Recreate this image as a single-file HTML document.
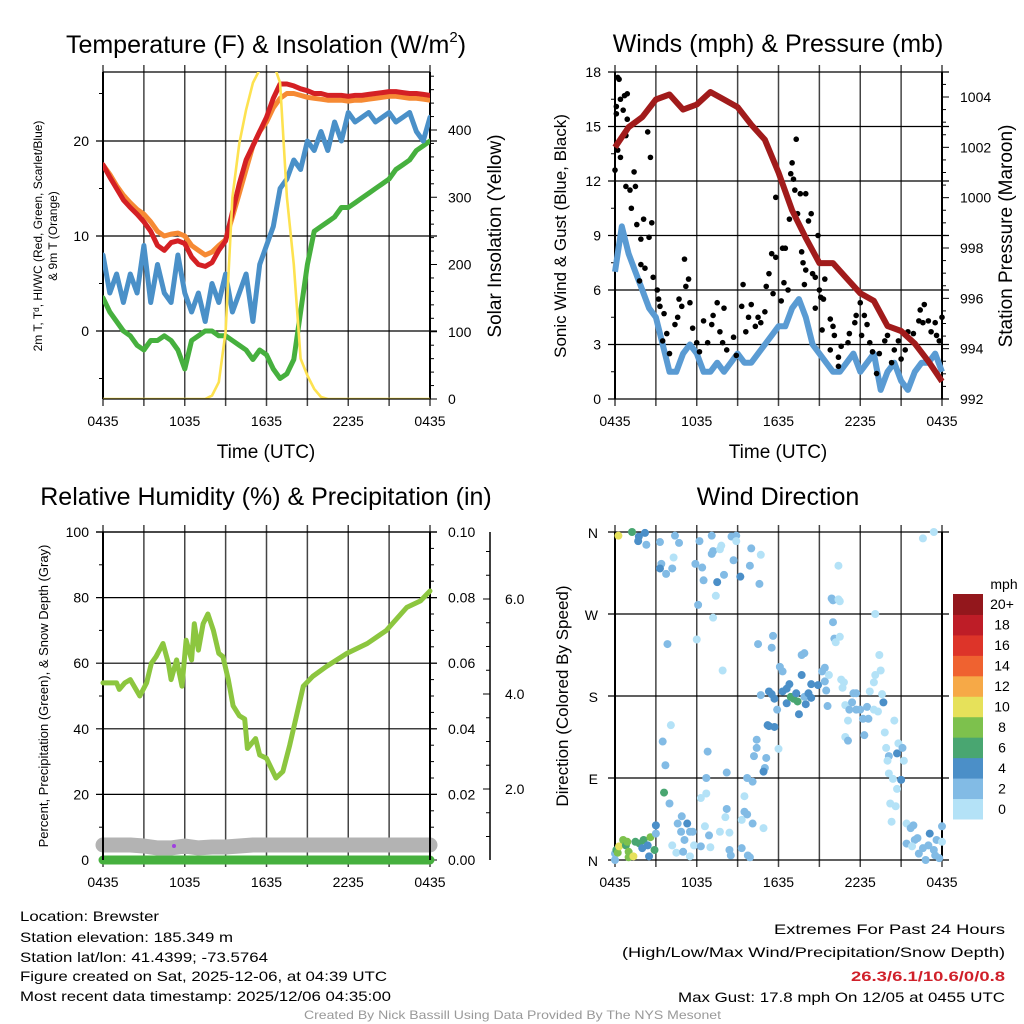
<!DOCTYPE html>
<html><head><meta charset="utf-8"><style>
html,body{margin:0;padding:0;background:#fff}
svg{display:block;font-family:"Liberation Sans",sans-serif}
</style></head><body>
<svg id="chart" width="1024" height="1024" viewBox="0 0 1024 1024" xmlns="http://www.w3.org/2000/svg">
<rect width="1024" height="1024" fill="#fff"/>
<g id="g"></g>
<g font-size="14" fill="#000">
<text x="20" y="921" textLength="139" lengthAdjust="spacingAndGlyphs">Location: Brewster</text>
<text x="20" y="942" textLength="213" lengthAdjust="spacingAndGlyphs">Station elevation: 185.349 m</text>
<text x="20" y="962" textLength="248" lengthAdjust="spacingAndGlyphs">Station lat/lon: 41.4399; -73.5764</text>
<text x="20" y="981" textLength="367" lengthAdjust="spacingAndGlyphs">Figure created on Sat, 2025-12-06, at 04:39 UTC</text>
<text x="20" y="1001" textLength="371" lengthAdjust="spacingAndGlyphs">Most recent data timestamp: 2025/12/06 04:35:00</text>
<text x="774" y="934" textLength="231" lengthAdjust="spacingAndGlyphs">Extremes For Past 24 Hours</text>
<text x="622" y="957" textLength="383" lengthAdjust="spacingAndGlyphs">(High/Low/Max Wind/Precipitation/Snow Depth)</text>
<text x="851" y="981" textLength="154" lengthAdjust="spacingAndGlyphs" font-weight="bold" fill="#d0202a">26.3/6.1/10.6/0/0.8</text>
<text x="678" y="1002" textLength="327" lengthAdjust="spacingAndGlyphs">Max Gust: 17.8 mph On 12/05 at 0455 UTC</text>
<text x="304" y="1019" font-size="12" fill="#999" textLength="417" lengthAdjust="spacingAndGlyphs">Created By Nick Bassill Using Data Provided By The NYS Mesonet</text>
</g>
</svg>
<script>
// ---------- DATA ----------
const halfHours = Array.from({length:49},(_, i)=>i*0.5);
const hourly = Array.from({length:25},(_, i)=>i);
const xTickLabels = ["0435","1035","1635","2235","0435"];
const tempTicks = [0,10,20];
const solarTicks = [0,100,200,300,400];
const windTicks = [0,3,6,9,12,15,18];
const pressTicks = [992,994,996,998,1000,1002,1004];
const rhTicks = [0,20,40,60,80,100];
const precipTickLabels = ["0.00","0.02","0.04","0.06","0.08","0.10"];
const snowTicks = [2,4,6];
const dirTickLabels = ["N","E","S","W","N"];
const speedBinLabels = ["0","2","4","6","8","10","12","14","16","18","20+"];
const speedColors = ["#b4e2f7","#82bbe5","#4b8fc8","#49a671","#7dc14d","#e6e15a","#f6a947","#ef6230","#dd3429","#be1d27","#93171c"];

const tempRed = [17.5,16.2,15,13.8,13,12.3,11.5,10.5,9,8.5,9.3,9.5,9.2,7.8,7,6.8,7.2,8.5,9.5,12.5,15.5,18,19.5,21,22.5,24.5,26,26,25.8,25.5,25.3,25,25,24.8,24.8,24.8,24.7,24.8,24.8,24.9,25,25.1,25.2,25.2,25.1,25,25,24.9,24.8];
const tempOrange = [17.5,16.5,15.3,14.3,13.5,12.8,12.3,11.5,10.5,10,10.2,10.3,10,9,8.5,8,8.3,9,9.6,12,14.5,17,19.5,21,22,23.5,24.5,25,25,24.8,24.6,24.5,24.4,24.3,24.3,24.3,24.2,24.3,24.3,24.4,24.5,24.6,24.7,24.7,24.6,24.5,24.5,24.4,24.3];
const windChill = [8,4,6,3,6,4,9,3,7,4,3,8,4,2,4,1,5,3,6,2,4,6,1,7,9,11,15,16,18,17,20,19,21,19,22,20,23,22,22.5,23,22,22.5,23,22,22.5,23,21,20,22.5];
const dewPoint = [3.5,2,1,0,-0.5,-1.5,-2,-1,-1,-0.5,-1,-2,-4,-1,-0.5,0,0,-0.5,-0.5,-1,-1.5,-2,-3,-2,-2.5,-4,-5,-4.5,-3,2,7,10.5,11,11.5,12,13,13,13.5,14,14.5,15,15.5,16,17,17.5,18,19,19.5,20];
const solar = [0,0,0,0,0,0,0,0,0,0,0,0,0,0,0,0,5,25,100,300,380,430,470,490,500,500,470,300,200,60,35,15,3,0,0,0,0,0,0,0,0,0,0,0,0,0,0,0,0];

const windSpeed = [7,9.5,8,7,6,5,4.5,3,1.5,1.5,2.5,3,2.5,1.5,1.5,2,1.5,2,2.5,2,2,2.5,3,3.5,4,4,5,5.5,4.5,3,2.5,2,1.5,1.5,2,2.5,1.5,2,2.5,0.5,1.5,2,1,0.5,1.5,2,2,2.5,1.5];
const pressure = [1002,1002.8,1003.2,1003.9,1004.1,1003.5,1003.7,1004.2,1003.9,1003.6,1002.9,1002.3,1001,999.5,998.4,997.4,997.4,996.8,996.2,995.9,994.9,994.7,994.2,993.5,992.7];
const gustHours = [0.2,0.3,0.1,0.1,0,0.2,0.4,0.4,0.7,0.9,0.6,0.9,0.8,0.8,1.1,1.5,1.4,1.2,1.6,2.1,1.9,2.5,2.7,2.4,2.6,1.9,2.2,1.8,2.8,3.1,3.2,3.3,3.6,3.8,3.5,4,4.4,4.6,4.9,4.7,5.1,5.4,5.2,5.5,5.7,6,6.2,6.5,6.8,7.1,7.2,7.5,7.7,8,7.9,8.2,8.7,8.9,9.4,9.3,9.6,9.8,10,10.3,10.5,10.7,11,11.1,11.3,11.5,11.8,11.8,11.6,12.3,12.5,12.4,12.2,12.7,12.8,12.9,13,13.1,13.2,13.3,13.4,13.6,14,14.4,14.2,14.9,13.7,13.8,14,14.5,14.7,13.9,15,15.1,15.4,15.3,14.7,15.2,15.8,15.8,16,16.1,16.4,16.4,16.6,17.1,17.2,17.6,17.7,18,18.1,18.3,18.5,18.7,18.9,19.2,19.4,19.8,20,20.3,20.5,20.8,21,21.3,21.5,21.9,22.3,22.4,22.7,22.6,23,23.2,23.5,23.6,23.8,24];
const gustSpeeds = [17.7,17.6,15.7,16.1,12.6,13.7,13.3,16.5,16.7,16.8,15.9,15.4,14.5,11.7,11.5,11.7,12.5,10.5,9.6,9.9,8.8,8.9,9.7,14.7,13.3,7.4,7.2,6.5,6.7,6.0,5.5,5.1,4.7,3.6,3.2,2.5,4.1,4.5,5.1,5.5,7.7,6.6,6.2,5.3,3.9,3.1,2.6,4.3,3.1,4.1,4.6,5.3,3.7,5.0,3.1,2.7,3.4,2.4,6.3,5.1,3.7,4.5,5.2,4.0,4.5,4.2,4.8,6.2,6.9,8.0,11.1,7.8,5.8,8.3,8.3,6.4,5.4,6.0,9.9,12.4,13.0,12.1,11.5,14.3,10.2,11.3,11.3,10.2,9.8,9.0,8.1,7.5,7.1,6.9,6.7,6.3,6.0,5.6,6.6,5.5,5.0,3.8,2.7,4.4,4.0,3.5,2.3,1.8,2.9,3.1,3.6,4.2,4.6,5.3,3.5,4.6,4.1,3.1,2.6,1.4,2.5,3.2,3.5,2.0,2.7,3.2,2.2,2.7,3.7,3.6,4.3,4.9,5.2,4.2,4.3,3.7,4.2,3.5,3.2,4.5];

const rhHours = [0,1,1.2,1.6,2,2.7,3.2,3.55,3.9,4.4,4.8,5,5.4,5.8,6.1,6.5,6.7,7,7.35,7.7,8.1,8.5,8.8,9.2,9.55,10,10.4,10.6,11.2,11.5,12,12.7,13.2,13.7,14.2,14.7,15.4,16.4,17.9,19.4,20.8,22.3,23.3,24];
const rhValues = [54,54,52,54,55,50,54,60,62,66,60,55,61,53,67,61,72,64,72,75,70,63,62,55,47,44,43,34,37,32,31,25,27,35,44,53,56,59,63,66,70,77,79,82];
const precipValues = [0,0,0,0,0,0,0,0,0,0,0,0,0,0,0,0,0,0,0,0,0,0,0,0,0];
const snowDepth = [0.82,0.82,0.82,0.8,0.76,0.76,0.8,0.76,0.78,0.78,0.8,0.82,0.82,0.82,0.82,0.82,0.82,0.82,0.82,0.82,0.82,0.82,0.82,0.82,0.82];

const dirHours = [0.25,1.25,1.7,1.75,2.2,2.3,3.3,3.4,3.3,3.75,4.2,4.3,4.4,4.7,5.9,6.2,6.4,6.5,7.1,7.2,7.1,7.5,7.7,7.8,7.4,8,8.55,8.9,8.9,8.7,9.2,10,9.9,10.6,10.7,6.1,7.2,6,3.85,
16.4,15.9,16,16.4,16.5,16,16.1,16.5,16.2,19.1,22.6,23.4,
10.5,11.6,11.5,7.9,12.1,12.3,13.7,13.9,13.7,10.7,11.3,11.5,11.7,11.9,12.3,12.6,12.8,12.6,12.9,13.1,13.4,13.3,13.5,14,13.9,14.2,14.4,14.4,14.9,15.2,15.4,15.4,15.7,15.5,15.6,16.6,16.8,16.7,16.9,17.1,16.9,17.1,17.4,17.5,17.7,17.7,17.2,18,18.2,18.5,18.6,18.3,18.7,19.1,19,19.4,19.5,19.6,19,19.3,19.7,19.8,20.5,19.9,20.1,20,20.1,20.4,20.7,20.2,20.6,20.3,20.8,20.7,21.1,21.2,21,
21.4,21.7,21.9,22,22.2,21.4,21.8,22.3,22.6,22.8,23.1,23,23.4,23.6,23.8,24,24,23.5,
0,0.1,0.2,0.3,0.6,0.8,0.9,1,1,1.35,1.5,1.8,2.1,2.4,2.6,2.5,2.9,2,3,3,0,3.6,4,3.5,3.7,4.1,4.2,4.5,4.6,4.9,4.85,5.1,5,5.3,5.5,5.7,5.8,5.5,6.3,6.6,6.3,6.7,6.7,6.8,6.9,7,7.7,8.2,8.2,8.1,8.4,8.4,8.5,9.3,9.3,9.5,9.5,9.7,9.75,9.9,9.7,10.1,10.1,10.9,10.2,10.4,10.4,11.1,11,10.9,11.2,11.3,11.7,12];
const dirDegrees = [356,360,350,355,359,346,349,325,320,314,320,332,356,348,325,350,321,307,356,339,336,305,341,345,290,313,355,356,350,329,311,342,323,303,335,280,266,242,237,
323,287,285,286,284,261,243,245,239,270,353,360,
237,246,233,208,212,207,225,227,203,181,185,182,177,165,185,188,193,172,179,177,174,183,160,171,179,183,193,178,192,207,211,196,203,186,169,198,195,189,170,153,135,131,173,183,183,165,165,165,155,168,155,137,185,203,195,225,208,182,165,163,173,140,153,123,114,109,95,89,78,62,59,42,128,117,123,109,88,
40,35,38,22,24,18,15,7,13,0,29,16,11,22,2,37,20,5,
7,11,8,15,22,16,20,9,3,4,20,18,22,16,25,4,11,13,38,29,0,74,62,130,104,148,16,8,40,48,31,22,9,40,31,31,16,4,15,37,68,73,90,119,27,14,31,96,56,47,30,11,5,13,44,70,53,50,5,3,90,86,40,35,114,132,123,112,101,97,148,147,146,122];
const dirSpeeds = [10,6,4,4,4,3,3,3,4,3,3,1,3,3,3,3,3,3,3,3,3,4,1,1,1,3,3,3,1,3,4,3,3,3,1,3,1,1,3,
1,3,3,1,1,3,3,1,1,1,1,1,
3,3,3,1,3,3,3,3,4,3,4,4,4,3,4,4,4,4,6,6,6,4,4,4,3,4,4,4,4,3,3,3,1,3,3,1,1,1,1,1,1,3,3,3,3,3,3,3,3,3,3,3,1,1,1,1,1,1,1,1,4,1,1,1,3,1,1,1,1,1,1,1,1,4,3,1,4,1,
3,3,3,3,3,1,3,3,3,4,3,3,3,3,3,1,3,3,
6,8,10,8,6,8,8,8,10,6,6,6,4,8,4,6,4,4,3,3,6,3,3,3,1,1,1,3,3,3,3,3,4,3,3,1,1,3,1,1,1,3,3,3,1,1,3,3,1,1,3,3,3,1,1,3,3,3,3,3,3,3,1,3,3,3,3,3,4,4,4,4,1,3];

// ---------- DRAW ----------
const NS='http://www.w3.org/2000/svg';
const G=document.getElementById('g');
function el(tag,attrs,parent,text){const e=document.createElementNS(NS,tag);for(const k in attrs)e.setAttribute(k,attrs[k]);if(text!==undefined)e.textContent=text;(parent||G).appendChild(e);return e;}
function scaleX(p){return h=>p.x0+h*(p.x1-p.x0)/24;}
function lin(d0,d1,r0,r1){return v=>r0+(v-d0)*(r1-r0)/(d1-d0);}
function pathFrom(xs,ys,sx,sy){let d='',pen=false;for(let i=0;i<xs.length;i++){const v=ys[i];if(v===null||v===undefined){pen=false;continue;}d+=(pen?'L':'M')+sx(xs[i]).toFixed(1)+','+sy(v).toFixed(1);pen=true;}return d;}
function speedColor(s){return speedColors[Math.min(10,Math.floor(s/2))];}

function frame(p,name){
  const g=el('g',{});
  
  
  const sx=scaleX(p);
  for(let i=0;i<=8;i++){
    const x=sx(i*3);
    const l=el('line',{x1:x,x2:x,y1:p.y0-7,y2:p.y1+7,stroke:'#444','stroke-width':1.5},g);
    
    
  }
  for(let i=0;i<xTickLabels.length;i++){
    const t=el('text',{x:sx(i*6),y:p.y1+27,'font-size':14,'text-anchor':'middle'},g,xTickLabels[i]);
    
    
  }
  el('line',{x1:p.x0,x2:p.x0,y1:p.y0,y2:p.y1,stroke:'#000','stroke-width':2},g);
  el('line',{x1:p.x1,x2:p.x1,y1:p.y0,y2:p.y1,stroke:'#000','stroke-width':2},g);
  return {g,sx};
}
function hGrid(g,p,y){el('line',{x1:p.x0-7,x2:p.x1+7,y1:y,y2:y,stroke:'#000','stroke-width':1.2},g);}
function title(x,y,txt,name){const t=el('text',{x,y,'font-size':25,'text-anchor':'middle'},G,txt);return t;}
function vlabel(x,y,txt,size,name){const t=el('text',{x,y,'font-size':size,'text-anchor':'middle',transform:`rotate(-90 ${x} ${y})`},G,txt);return t;}

// Panel 1
(function(){
  const p={x0:103,x1:430,y0:72,y1:399};
  const {g,sx}=frame(p,'temperature-panel');
  const sy=lin(0,20,331,141);
  const ss=lin(0,400,399,130);
  for(let v=-5;v<=25;v+=5){const y=sy(v);if(tempTicks.includes(v)){hGrid(g,p,y);const t=el('text',{x:p.x0-14,y:y+5,'font-size':14,'text-anchor':'end'},g,String(v));}else el('line',{x1:p.x0-4,x2:p.x0,y1:y,y2:y,stroke:'#000'},g);}
  for(let v=0;v<=500;v+=20){const y=ss(v);if(y<p.y0)break;const maj=solarTicks.includes(v);el('line',{x1:p.x1,x2:p.x1+(maj?7:4),y1:y,y2:y,stroke:'#000'},g);if(maj){const t=el('text',{x:p.x1+18,y:y+5,'font-size':14},g,String(v));}}
  el('line',{x1:p.x0,x2:p.x1,y1:p.y0,y2:p.y0,stroke:'#000','stroke-width':1.2},g);
  el('clipPath',{id:'c1'},g);
  el('rect',{x:p.x0,y:p.y0,width:p.x1-p.x0,height:p.y1-p.y0},g.lastChild);
  const series=[[dewPoint,'#46b03e','dewpoint-line',sy,5],[windChill,'#4a90c8','windchill-line',sy,5],[tempOrange,'#f68a34','temp-9m-line',sy,5],[tempRed,'#d42024','temp-2m-line',sy,5],[solar,'#fde250','solar-line',ss,2.6]];
  series.forEach(s=>{const l=el('path',{d:pathFrom(halfHours,s[0],sx,s[3]),fill:'none',stroke:s[1],'stroke-width':s[4],'stroke-linejoin':'round','stroke-linecap':'round','clip-path':'url(#c1)'},g);});
  el('line',{x1:p.x0,x2:p.x1,y1:p.y1,y2:p.y1,stroke:'#000','stroke-width':1.2},g);
  const t=title(266,53,'Temperature (F) & Insolation (W/m','temp-title');el('tspan',{'font-size':15,dy:-11},t,'2');el('tspan',{dy:11},t,')');
  const a=el('text',{x:266,y:458,'font-size':19,'text-anchor':'middle'},G,'Time (UTC)');
  vlabel(42,236,'2m T, T\u1d48, HI/WC (Red, Green, Scarlet/Blue)',12,'temp-y-axis-title');
  vlabel(57,236,'& 9m T (Orange)',12,'temp-y-axis-title-2');
  vlabel(501,236,'Solar Insolation (Yellow)',19,'solar-y-axis-title');
})();

// Panel 2
(function(){
  const p={x0:615,x1:942,y0:72,y1:399};
  const {g,sx}=frame(p,'wind-panel');
  const sy=lin(0,18,399,72);
  const sp=lin(992,1004,399,97);
  for(let v=0;v<=18;v+=1.5){const y=sy(v);if(windTicks.includes(v)){hGrid(g,p,y);const t=el('text',{x:p.x0-14,y:y+5,'font-size':14,'text-anchor':'end'},g,String(v));}else el('line',{x1:p.x0-4,x2:p.x0,y1:y,y2:y,stroke:'#000'},g);}
  for(let v=992;v<=1005.01;v+=0.5){const y=sp(v);if(y<p.y0)break;const maj=pressTicks.includes(v);el('line',{x1:p.x1,x2:p.x1+(maj?7:4),y1:y,y2:y,stroke:'#000'},g);if(maj){const t=el('text',{x:p.x1+18,y:y+5,'font-size':14},g,String(v));}}
  const w=el('path',{d:pathFrom(halfHours,windSpeed,sx,sy),fill:'none',stroke:'#5a9bd3','stroke-width':6,'stroke-linejoin':'round'},g);
  
  
  for(let i=0;i<gustHours.length;i++){const c=el('circle',{cx:sx(gustHours[i]),cy:sy(gustSpeeds[i]),r:2.8,fill:'#000'},g);}
  const pl=el('path',{d:pathFrom(hourly,pressure,sx,sp),fill:'none',stroke:'#a11b1b','stroke-width':6,'stroke-linejoin':'round'},g);
  
  
  title(778,52,'Winds (mph) & Pressure (mb)','wind-title');
  const a=el('text',{x:778,y:458,'font-size':19,'text-anchor':'middle'},G,'Time (UTC)');
  vlabel(566,236,'Sonic Wind & Gust (Blue, Black)',17,'wind-y-axis-title');
  vlabel(1012,236,'Station Pressure (Maroon)',19,'pressure-y-axis-title');
})();

// Panel 3
(function(){
  const p={x0:103,x1:430,y0:532,y1:860};
  const {g,sx}=frame(p,'humidity-panel');
  const sy=lin(0,100,860,532);
  const sn=lin(2,4,789,694);
  for(let v=0;v<=100;v+=10){const y=sy(v);if(rhTicks.includes(v)){if(v>0)hGrid(g,p,y);const t=el('text',{x:p.x0-14,y:y+5,'font-size':14,'text-anchor':'end'},g,String(v));}else el('line',{x1:p.x0-4,x2:p.x0,y1:y,y2:y,stroke:'#000'},g);}
  for(let v=0;v<=100;v+=5){const y=sy(v);const maj=v%20===0;el('line',{x1:p.x1,x2:p.x1+(maj?7:4),y1:y,y2:y,stroke:'#000'},g);if(maj){const t=el('text',{x:p.x1+18,y:y+5,'font-size':14},g,precipTickLabels[v/20]);}}
  el('line',{x1:490,x2:490,y1:532,y2:860,stroke:'#000','stroke-width':1.5},g);
  for(let v=0.5;v<=9;v+=0.5){const y=sn(v);if(y<532||y>860)continue;const maj=snowTicks.includes(v);el('line',{x1:490-(maj?7:4),x2:490,y1:y,y2:y,stroke:'#000'},g);if(maj){const t=el('text',{x:505,y:y+5,'font-size':14},g,v.toFixed(1));}}
  const sd=el('path',{d:pathFrom(hourly,snowDepth,sx,sn),fill:'none',stroke:'#b3b3b3','stroke-width':15,'stroke-linecap':'round','stroke-linejoin':'round'},g);
  
  
  const pr=el('path',{d:pathFrom(hourly,precipValues,sx,sy),fill:'none',stroke:'#46b03e','stroke-width':9,'stroke-linecap':'round'},g);
  
  
  el('circle',{cx:174,cy:846,r:2,fill:'#a040e0'},g);
  el('line',{x1:p.x0,x2:p.x0,y1:p.y0,y2:p.y1,stroke:'#000','stroke-width':2},g);
  el('line',{x1:p.x1,x2:p.x1,y1:p.y0,y2:p.y1,stroke:'#000','stroke-width':2},g);
  hGrid(g,p,sy(100));
  const rh=el('path',{d:pathFrom(rhHours,rhValues,sx,sy),fill:'none',stroke:'#8cc63f','stroke-width':5,'stroke-linejoin':'round','stroke-linecap':'round'},g);
  
  
  title(266,505,'Relative Humidity (%) & Precipitation (in)','humidity-title');
  vlabel(48,696,'Percent, Precipitation (Green), & Snow Depth (Gray)',13,'rh-y-axis-title');
})();

// Panel 4
(function(){
  const p={x0:615,x1:942,y0:532,y1:860};
  const {g,sx}=frame(p,'wind-direction-panel');
  const sy=lin(0,360,860,532);
  for(let i=0;i<5;i++){const y=sy(i*90);hGrid(g,p,y);const t=el('text',{x:p.x0-17,y:y+6,'font-size':14,'text-anchor':'end'},g,dirTickLabels[i]);}
  for(let i=0;i<dirHours.length;i++){const c=el('circle',{cx:sx(dirHours[i]),cy:sy(dirDegrees[i]),r:4,fill:speedColor(dirSpeeds[i])},g);}
  title(778,505,'Wind Direction','direction-title');
  vlabel(568,696,'Direction (Colored By Speed)',17,'direction-y-axis-title');
  const lg=el('g',{},G);
  
  
  el('text',{x:1004,y:589,'font-size':14,'text-anchor':'middle'},lg,'mph');
  const bh=(819-594)/11;
  for(let i=0;i<11;i++){const y=819-(i+1)*bh;const r=el('rect',{x:953,y:y,width:30,height:bh+0.5,fill:speedColors[i]},lg);const t=el('text',{x:1002,y:y+bh/2+5,'font-size':14,'text-anchor':'middle'},lg,speedBinLabels[i]);}
})();
</script>
</body></html>
